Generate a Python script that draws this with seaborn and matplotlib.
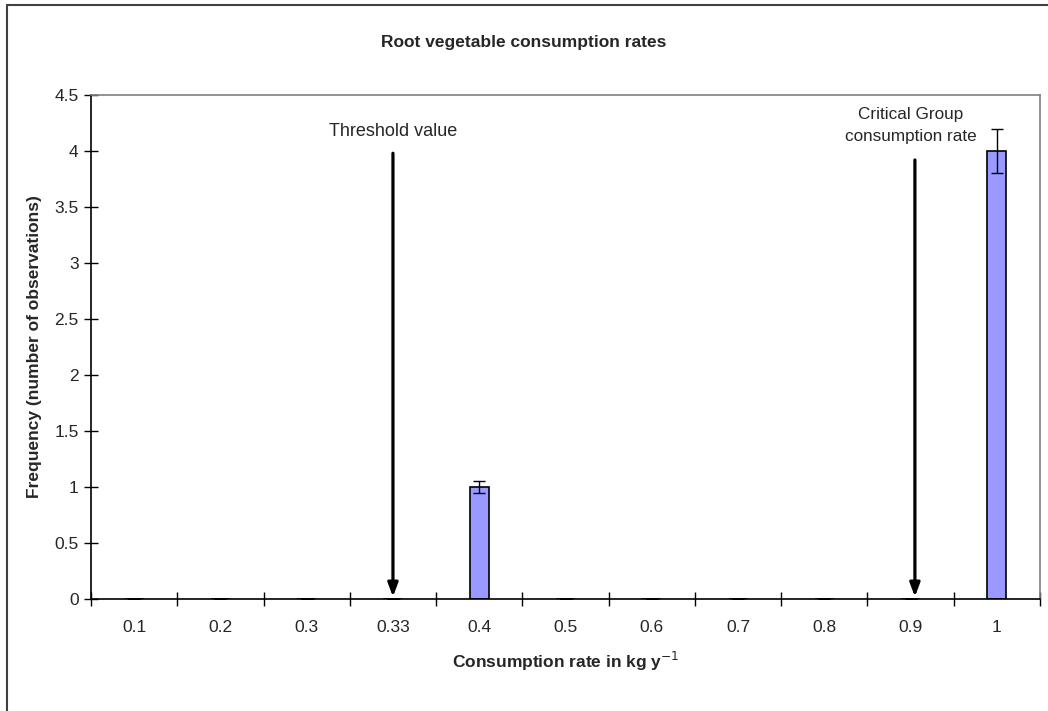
import numpy as np
import pandas as pd
import seaborn as sns
import matplotlib.pyplot as plt
from matplotlib.lines import Line2D

# data
categories = ["0.1", "0.2", "0.3", "0.33", "0.4", "0.5", "0.6", "0.7", "0.8", "0.9", "1"]
frequency = [0, 0, 0, 0, 1, 0, 0, 0, 0, 0, 4]
errors = [0, 0, 0, 0, 0.05, 0, 0, 0, 0, 0, 0.2]

# annotation arrows: (category, arrow top, label, label height)
threshold = ("0.33", 3.98, "Threshold value", 4.17)
critical = ("0.9", 3.92, "Critical Group\nconsumption rate", 4.23)

df = pd.DataFrame({"rate": categories, "freq": frequency, "err": errors})

sns.set_style("white")
plt.rcParams["font.family"] = ["Liberation Sans", "DejaVu Sans"]

fig = plt.figure(figsize=(10.48, 7.11), dpi=100)
ax = fig.add_axes([91 / 1048, 1 - 599 / 711, (1040 - 91) / 1048, (599 - 95) / 711])

sns.barplot(data=df, x="rate", y="freq", order=categories, color="#9999FF",
            edgecolor="black", linewidth=1.2, width=0.22, saturation=1, ax=ax)

xpos = np.arange(len(categories))
ax.errorbar(xpos, df["freq"], yerr=df["err"], fmt="none", ecolor="black",
            elinewidth=1, capsize=4, capthick=1)

ax.set_xlim(-0.5, len(categories) - 0.5)
ax.set_ylim(0, 4.5)
ax.set_yticks(np.arange(0, 4.51, 0.5))
ax.set_yticklabels(["0", "0.5", "1", "1.5", "2", "2.5", "3", "3.5", "4", "4.5"])

ax.set_xticks(xpos)
ax.set_xticklabels(categories)
ax.set_xticks(np.arange(-0.5, len(categories), 1), minor=True)
ax.tick_params(axis="x", which="major", bottom=True, length=0, labelsize=12.5, pad=15)
ax.tick_params(axis="x", which="minor", bottom=True, direction="inout", length=10,
               width=1, color="black")
ax.tick_params(axis="y", direction="inout", length=10, width=1, color="black",
               left=True, labelsize=12.5, pad=4)

for side in ["top", "right"]:
    ax.spines[side].set_visible(True)
    ax.spines[side].set_color("#808080")
    ax.spines[side].set_linewidth(1.2)
for side in ["left", "bottom"]:
    ax.spines[side].set_color("black")
    ax.spines[side].set_linewidth(1.2)

ax.set_xlabel("Consumption rate in kg y$^{-1}$", fontsize=12.5, fontweight="bold", labelpad=11)
ax.set_ylabel("Frequency (number of observations)", fontsize=12.5, fontweight="bold", labelpad=9)

for cat, top, label, ly in [threshold, critical]:
    x = categories.index(cat)
    tx = x
    if cat == "0.9":
        x += 0.05
    ax.annotate("", xy=(x, 0.02), xytext=(x, top),
                arrowprops=dict(arrowstyle="-|>,head_width=0.3,head_length=0.8",
                                color="black", lw=2.3, shrinkA=0, shrinkB=0))
    ax.text(tx, ly, label, ha="center", va="center",
            fontsize=13 if cat == "0.33" else 12.3, linespacing=1.55)

fig.text(524 / 1048, 1 - 42 / 711, "Root vegetable consumption rates",
         ha="center", va="center", fontsize=12.5, fontweight="bold")

# outer chart frame (top and left edges visible)
fig.add_artist(Line2D([7 / 1048, 1], [1 - 5 / 711, 1 - 5 / 711], color="#404040", lw=1.5))
fig.add_artist(Line2D([7 / 1048, 7 / 1048], [1 - 5 / 711, 0], color="#404040", lw=1.5))

fig.savefig("out.png", dpi=100)
